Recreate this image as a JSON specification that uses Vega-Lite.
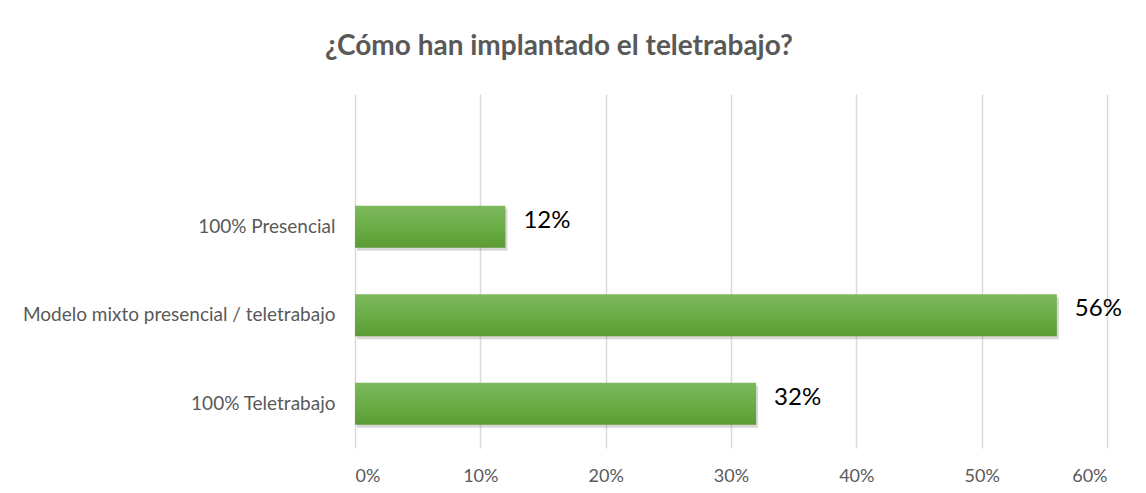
{
  "$schema": "https://vega.github.io/schema/vega-lite/v6.json",
  "width": 752,
  "height": 354,
  "autosize": "none",
  "padding": {"left": 355, "top": 94, "right": 39, "bottom": 45},
  "background": "white",
  "config": {"view": {"stroke": null}},
  "title": {
    "text": "¿Cómo han implantado el teletrabajo?",
    "anchor": "start",
    "frame": "group",
    "dx": -30,
    "offset": 33,
    "font": "Lato",
    "fontSize": 28,
    "fontWeight": "bold",
    "color": "#595959"
  },
  "data": {
    "values": [
      {"categoria": "100% Presencial", "valor": 0.12},
      {"categoria": "Modelo mixto presencial / teletrabajo", "valor": 0.56},
      {"categoria": "100% Teletrabajo", "valor": 0.32}
    ]
  },
  "encoding": {
    "y": {
      "field": "categoria",
      "type": "nominal",
      "title": null,
      "scale": {
        "domain": [" ", "100% Presencial", "Modelo mixto presencial / teletrabajo", "100% Teletrabajo"],
        "paddingInner": 0.525,
        "paddingOuter": 0.2625
      },
      "axis": {
        "domain": false,
        "ticks": false,
        "grid": false,
        "labelPadding": 20,
        "labelFont": "Lato",
        "labelFontSize": 19,
        "labelColor": "#595959",
        "labelLimit": 400
      }
    },
    "x": {
      "field": "valor",
      "type": "quantitative",
      "title": null,
      "scale": {"domain": [0, 0.6], "nice": false},
      "axis": {
        "values": [0, 0.1, 0.2, 0.3, 0.4, 0.5, 0.6],
        "format": ".0%",
        "domain": false,
        "ticks": false,
        "grid": true,
        "gridColor": "#d9d9d9",
        "gridWidth": 1.5,
        "labelPadding": 19,
        "labelFont": "Lato",
        "labelFontSize": 18,
        "labelColor": "#595959"
      }
    }
  },
  "layer": [
    {
      "mark": {"type": "bar", "color": "#7f7f7f", "opacity": 0.3, "xOffset": 2, "yOffset": 3}
    },
    {
      "mark": {
        "type": "bar",
        "color": {
          "gradient": "linear",
          "x1": 0, "y1": 0, "x2": 0, "y2": 1,
          "stops": [
            {"offset": 0, "color": "#7db85e"},
            {"offset": 0.5, "color": "#6bad46"},
            {"offset": 1, "color": "#5c9b33"}
          ]
        }
      }
    },
    {
      "mark": {
        "type": "text",
        "align": "left",
        "baseline": "middle",
        "dx": 18,
        "dy": -6,
        "font": "Lato",
        "fontSize": 24,
        "color": "#000000"
      },
      "encoding": {
        "text": {"field": "valor", "type": "quantitative", "format": ".0%"}
      }
    }
  ]
}
